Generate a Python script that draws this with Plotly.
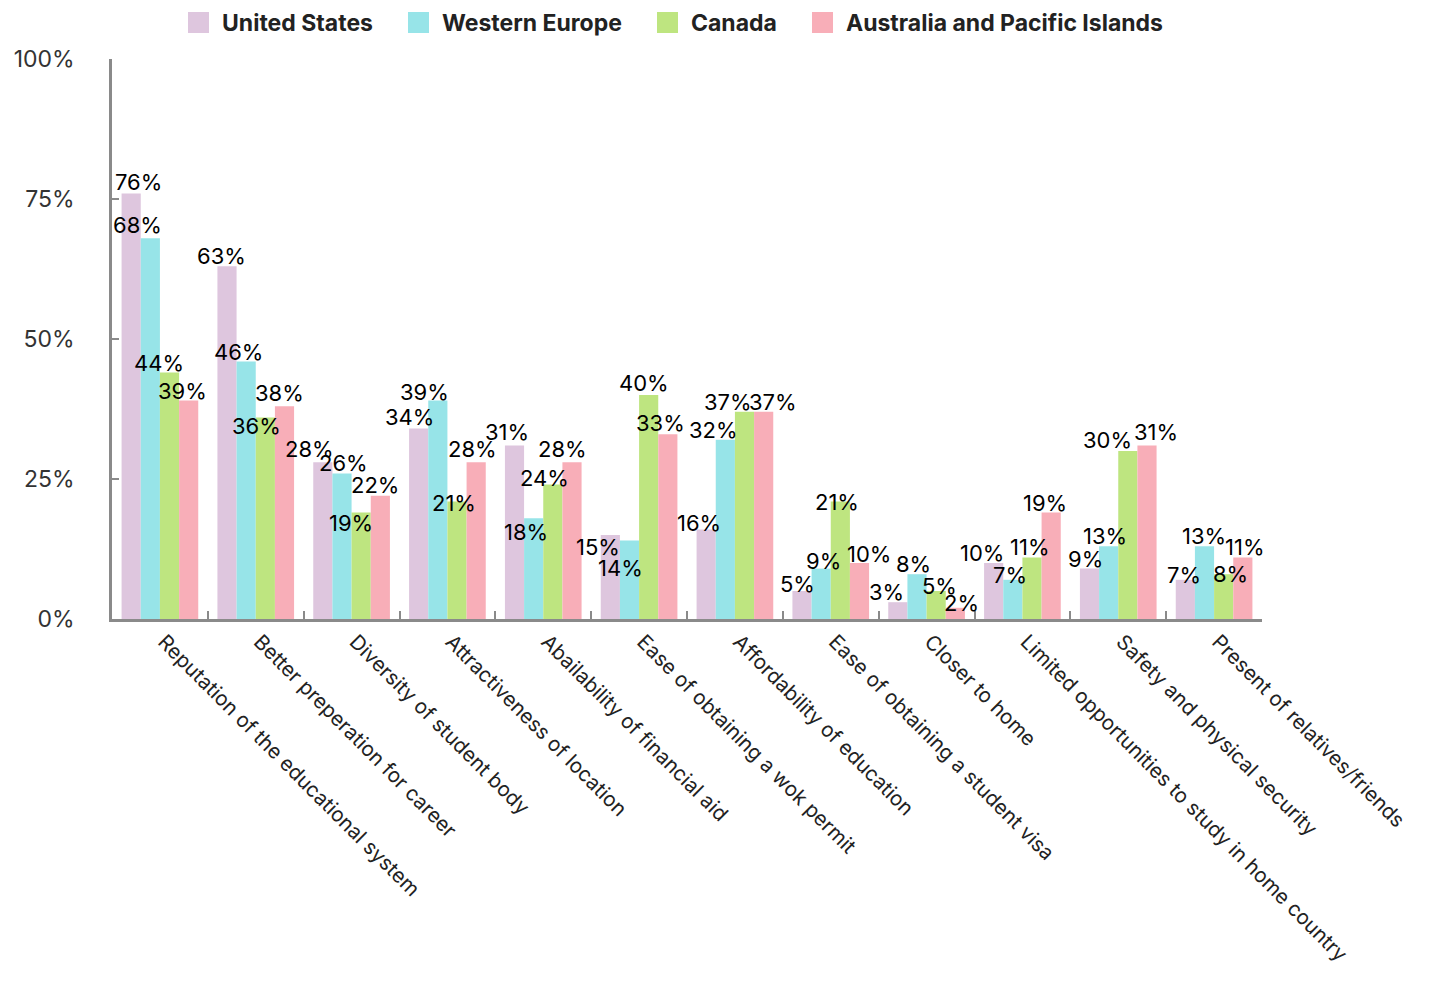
import plotly.graph_objects as go

# ---- data -------------------------------------------------------------
categories = [
    "Reputation of the educational system",
    "Better preperation for career",
    "Diversity of student body",
    "Attractiveness of location",
    "Abailability of financial aid",
    "Ease of obtaining a wok permit",
    "Affordability of education",
    "Ease of obtaining a student visa",
    "Closer to home",
    "Limited opportunities to study in home country",
    "Safety and physical security",
    "Present of relatives/friends",
]

united_states = [76, 63, 28, 34, 31, 15, 16, 5, 3, 10, 9, 7]
western_europe = [68, 46, 26, 39, 18, 14, 32, 9, 8, 7, 13, 13]
canada = [44, 36, 19, 21, 24, 40, 37, 21, 5, 11, 30, 8]
australia_pacific = [39, 38, 22, 28, 28, 33, 37, 10, 2, 19, 31, 11]

series_names = ["United States", "Western Europe", "Canada", "Australia and Pacific Islands"]
series_values = [united_states, western_europe, canada, australia_pacific]

y_tick_values = [0, 25, 50, 75, 100]
y_tick_labels = ["0%", "25%", "50%", "75%", "100%"]

# ---- styling ----------------------------------------------------------
colors = ["#DEC6DE", "#97E4E8", "#BEE580", "#F8AEB8"]
FONT = "Inter"
AXIS_GREY = "#8a8a8a"

W, H = 1440, 981
M_L, M_R, M_T, M_B = 112, 178, 59, 362
PLOT_W = W - M_L - M_R
PLOT_H = H - M_T - M_B
BARGAP = 0.2
GROUP_PX = PLOT_W / len(categories)
BAR_PX = GROUP_PX * (1 - BARGAP) / len(series_names)

# value-label nudges in px (dx: right, dy: up from the bar top) keeping
# neighbouring labels apart
label_dx = [
    [7, -6, -13, -9, -8, -12, -7, -5, -11, -12, -4, -1],
    [-13, -8, 2, -13, -8, -9, -12, 2, -3, -3, -4, 0],
    [-11, -9, -10, -3, -8, -5, -17, -3, 3, -2, -20, 7],
    [-6, -5, -5, -4, -10, -7, 9, 9, 6, -6, 9, 2],
]
label_dy = [
    [9, 8, 11, 10, 11, -14, 4, 5, 8, 8, 8, 3],
    [11, 7, 8, 7, -16, -29, 8, 6, 8, 3, 8, 8],
    [8, -11, -12, -4, 5, 10, 8, -3, 3, 8, 9, -2],
    [8, 11, 9, 11, 11, 9, 8, 7, 3, 8, 11, 8],
]
LABEL_LIFT = 2  # extra px between the text box middle and the glyph centre

fig = go.Figure()

for name, vals, color in zip(series_names, series_values, colors):
    fig.add_trace(go.Bar(
        name=name,
        x=categories,
        y=vals,
        marker=dict(color=color, line=dict(width=0)),
        showlegend=False,
        hovertemplate="%{x}<br>" + name + ": %{y}%<extra></extra>",
    ))

annotations = []
for i, vals in enumerate(series_values):
    for g, v in enumerate(vals):
        annotations.append(dict(
            x=categories[g], y=v, xref="x", yref="y",
            text=f"{v}%", showarrow=False,
            xanchor="center", yanchor="middle",
            xshift=(i - 1.5) * BAR_PX + label_dx[i][g],
            yshift=label_dy[i][g] + LABEL_LIFT,
            font=dict(family=FONT, size=22, color="#000000"),
        ))

# legend drawn as swatches + labels across the top
legend_x = [188, 408, 657, 812]
SW = 21
shapes = []
for lx, name, color in zip(legend_x, series_names, colors):
    shapes.append(dict(
        type="rect", xref="paper", yref="paper",
        x0=(lx - M_L) / PLOT_W, x1=(lx + SW - M_L) / PLOT_W,
        y0=(H - M_B - 33) / PLOT_H, y1=(H - M_B - 12) / PLOT_H,
        fillcolor=color, line=dict(width=0), layer="above",
    ))
    annotations.append(dict(
        x=(lx + SW + 11 - M_L) / PLOT_W, y=(H - M_B - 23.5) / PLOT_H,
        xref="paper", yref="paper", xanchor="left", yanchor="middle",
        text=f"<b>{name}</b>", showarrow=False,
        font=dict(family=FONT, size=23, color="#222222"),
    ))

fig.update_layout(
    width=W, height=H, autosize=False,
    margin=dict(l=M_L, r=M_R, t=M_T, b=M_B, pad=0, autoexpand=False),
    paper_bgcolor="white", plot_bgcolor="white",
    barmode="group", bargap=BARGAP, bargroupgap=0,
    showlegend=False,
    font=dict(family=FONT, color="#222222"),
    annotations=annotations,
    shapes=shapes,
)

fig.update_xaxes(
    type="category", automargin=False,
    range=[-0.5, len(categories) - 0.5],
    showline=True, linecolor=AXIS_GREY, linewidth=2.5,
    ticks="inside", tickson="boundaries", ticklen=8, tickwidth=2, tickcolor=AXIS_GREY,
    tickangle=45, ticklabelshift=4,
    tickfont=dict(family=FONT, size=20.5, color="#222222"),
    showgrid=False, zeroline=False,
)
fig.update_yaxes(
    automargin=False,
    range=[0, 100],
    tickvals=y_tick_values, ticktext=y_tick_labels,
    showline=True, linecolor=AXIS_GREY, linewidth=2.5,
    ticks="inside", ticklen=7, tickwidth=2, tickcolor=AXIS_GREY,
    ticklabelstandoff=30,
    tickfont=dict(family=FONT, size=23, color="#333333"),
    showgrid=False, zeroline=False,
)

fig.write_html("out.html")
